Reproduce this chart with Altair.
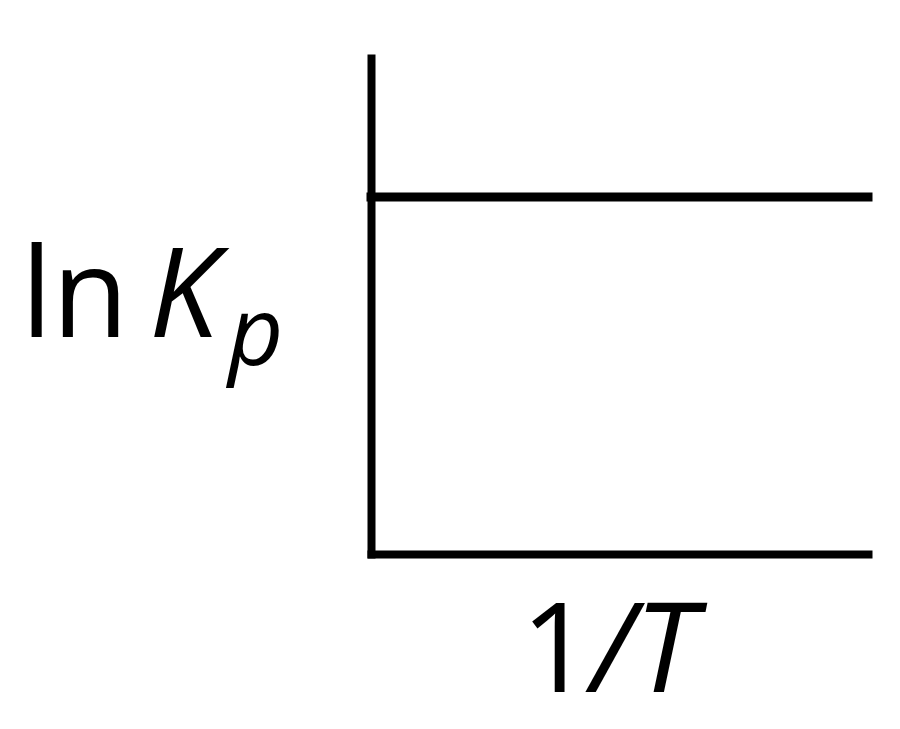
import altair as alt
import pandas as pd

# Data: constant ln Kp versus 1/T
inv_T = [0.0, 1.0]
ln_Kp = [0.72, 0.72]

label_ln = ["ln"]
label_K = ["K"]
label_p = ["p"]
label_one = ["1"]
label_T = ["/T"]

FONT = "Open Sans"
SIZE = 124

line_df = pd.DataFrame({"invT": inv_T, "lnKp": ln_Kp})

ax = dict(title=None, labels=False, ticks=False, grid=False,
          domainColor="black", domainWidth=8, domainCap="square")

x = alt.X("invT:Q", scale=alt.Scale(domain=[0, 1], nice=False, zero=False), axis=alt.Axis(**ax))
y = alt.Y("lnKp:Q", scale=alt.Scale(domain=[0, 1], nice=False, zero=False), axis=alt.Axis(**ax))

line = alt.Chart(line_df).mark_line(color="black", strokeWidth=9, strokeCap="square").encode(x=x, y=y)


def txt(vals, px, py, size, style="normal", align="left"):
    return alt.Chart(pd.DataFrame({"t": vals})).mark_text(
        font=FONT, fontSize=size, fontStyle=style, color="black",
        align=align, baseline="alphabetic"
    ).encode(text="t:N", x=alt.value(px), y=alt.value(py))


t_ln = txt(label_ln, -350, 279, SIZE)
t_K = txt(label_K, -222, 279, SIZE, "italic")
t_p = txt(label_p, -143, 307, 96, "italic")
t_one = txt(label_one, 150, 634, SIZE)
t_T = txt(label_T, 220, 634, SIZE, "italic")

chart = alt.layer(line, t_ln, t_K, t_p, t_one, t_T).properties(
    width=497, height=496,
    autosize=alt.AutoSizeParams(type="none"),
    padding={"left": 363, "top": 50, "right": 20, "bottom": 160},
).configure_view(stroke=None)

chart.save("out.html", embed_options={"renderer": "svg", "actions": False})
